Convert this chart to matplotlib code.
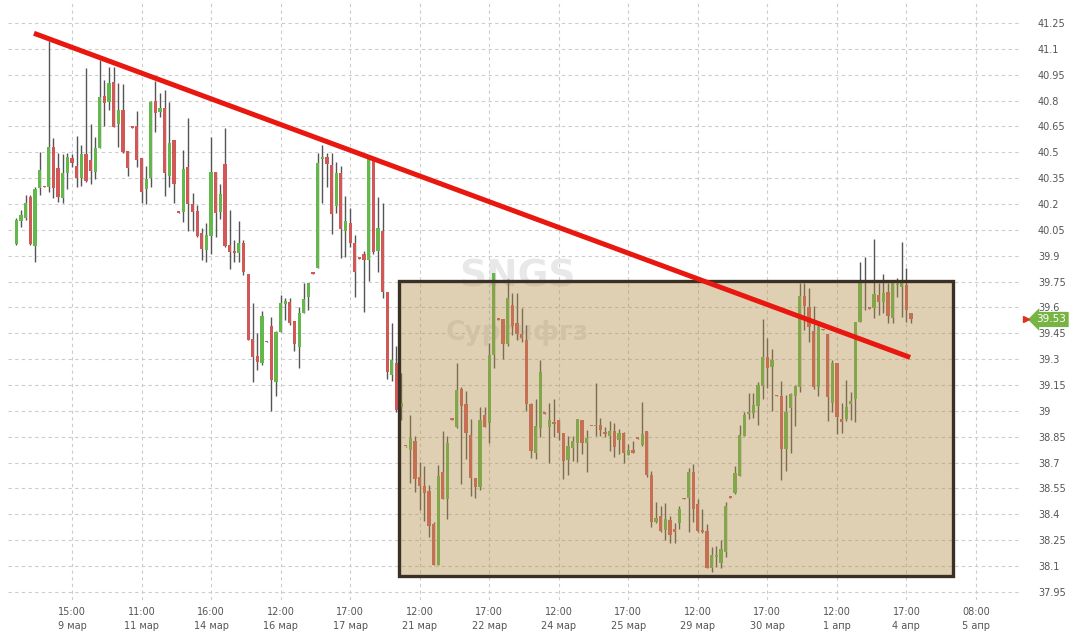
import numpy as np
import matplotlib.pyplot as plt
import matplotlib.transforms as mtransforms
from matplotlib.patches import Rectangle

# hourly candles SNGS
opens = [39.966, 40.103, 40.117, 40.239, 39.958, 40.295, 40.302, 40.297, 40.529, 40.407,
         40.233, 40.378, 40.469, 40.420, 40.349, 40.490, 40.455, 40.388, 40.523, 40.827,
         40.794, 40.906, 40.662, 40.745, 40.507, 40.647, 40.653, 40.465, 40.285, 40.349,
         40.798, 40.736, 40.755, 40.363, 40.571, 40.154, 40.156, 40.417, 40.200, 40.160,
         40.034, 39.933, 40.014, 40.384, 40.156, 40.430, 39.962, 39.922, 39.918, 39.976,
         39.794, 39.415, 39.318, 39.276, 39.404, 39.494, 39.170, 39.460, 39.618, 39.630,
         39.521, 39.373, 39.570, 39.663, 39.800, 39.827, 40.459, 40.471, 40.426, 40.191,
         40.378, 40.045, 40.092, 39.972, 39.887, 39.908, 39.875, 40.450, 39.929, 40.044,
         39.688, 39.208, 39.280, 39.025, 38.798, 38.773, 38.825, 38.619, 38.564, 38.535,
         38.344, 38.106, 38.646, 38.487, 38.953, 38.909, 39.127, 39.038, 38.860, 38.609,
         38.561, 38.976, 38.928, 39.324, 39.533, 39.531, 39.388, 39.614, 39.508, 39.446,
         39.411, 39.040, 38.754, 38.899, 38.988, 38.909, 38.934, 38.947, 38.874, 38.715,
         38.783, 38.812, 38.947, 38.812, 38.914, 38.910, 38.918, 38.872, 38.856, 38.885,
         38.831, 38.870, 38.744, 38.773, 38.843, 38.802, 38.885, 38.628, 38.357, 38.390,
         38.309, 38.367, 38.313, 38.348, 38.491, 38.493, 38.644, 38.458, 38.309, 38.303,
         38.087, 38.151, 38.120, 38.180, 38.501, 38.522, 38.624, 38.856, 38.984, 38.986,
         39.030, 39.144, 39.311, 39.253, 39.090, 39.088, 38.777, 39.015, 39.088, 39.141,
         39.666, 39.601, 39.465, 39.137, 39.471, 39.446, 39.044, 39.276, 38.951, 38.951,
         39.038, 39.067, 39.518, 39.740, 39.597, 39.595, 39.672, 39.634, 39.692, 39.537,
         39.730, 39.717, 39.730, 39.570]
highs = [40.117, 40.165, 40.252, 40.252, 40.301, 40.504, 40.302, 41.146, 40.581, 40.494,
         40.490, 40.494, 40.490, 40.595, 40.542, 40.987, 40.664, 40.587, 41.035, 40.919,
         40.993, 40.993, 40.900, 40.896, 40.507, 40.650, 40.741, 40.465, 40.420, 40.798,
         40.913, 40.842, 40.861, 40.794, 40.571, 40.156, 40.513, 40.697, 40.262, 40.194,
         40.059, 40.088, 40.587, 40.384, 40.314, 40.639, 40.165, 39.991, 40.102, 39.991,
         39.794, 39.624, 39.454, 39.581, 39.405, 39.547, 39.465, 39.672, 39.653, 39.653,
         39.521, 39.605, 39.740, 39.744, 39.800, 40.494, 40.542, 40.494, 40.494, 40.442,
         40.422, 40.247, 40.179, 40.020, 39.888, 39.928, 40.465, 40.450, 40.243, 40.208,
         39.688, 39.512, 39.377, 39.218, 38.799, 38.976, 38.854, 38.706, 38.680, 38.570,
         38.358, 38.686, 38.883, 38.856, 38.954, 39.276, 39.141, 39.115, 38.951, 38.609,
         39.025, 39.025, 39.396, 39.798, 39.534, 39.531, 39.765, 39.682, 39.682, 39.595,
         39.498, 39.048, 39.067, 39.295, 38.989, 39.048, 39.067, 38.947, 38.874, 38.854,
         38.854, 38.951, 38.947, 38.889, 38.915, 39.164, 38.957, 38.908, 38.943, 38.928,
         38.893, 38.880, 38.806, 38.827, 38.844, 39.054, 38.885, 38.653, 38.473, 38.448,
         38.468, 38.390, 38.348, 38.448, 38.492, 38.667, 38.690, 38.487, 38.429, 38.344,
         38.212, 38.216, 38.250, 38.470, 38.502, 38.680, 38.918, 38.996, 39.102, 39.102,
         39.170, 39.531, 39.421, 39.357, 39.091, 39.175, 39.092, 39.102, 39.150, 39.740,
         39.740, 39.711, 39.608, 39.498, 39.472, 39.446, 39.295, 39.276, 39.048, 39.179,
         39.112, 39.518, 39.866, 39.895, 39.598, 39.995, 39.740, 39.794, 39.740, 39.744,
         39.769, 39.982, 39.827, 39.570]
lows = [39.962, 40.069, 40.107, 39.962, 39.862, 40.252, 40.298, 40.268, 40.237, 40.214,
        40.204, 40.285, 40.417, 40.301, 40.304, 40.330, 40.316, 40.343, 40.523, 40.653,
        40.745, 40.645, 40.529, 40.498, 40.364, 40.640, 40.413, 40.204, 40.200, 40.301,
        40.620, 40.703, 40.247, 40.301, 40.208, 40.148, 40.094, 40.045, 40.045, 40.011,
        39.875, 39.862, 39.910, 40.007, 40.111, 39.953, 39.821, 39.862, 39.862, 39.788,
        39.411, 39.170, 39.237, 39.266, 39.399, 39.001, 39.086, 39.460, 39.527, 39.498,
        39.348, 39.251, 39.566, 39.585, 39.795, 39.827, 40.204, 40.301, 40.026, 40.146,
        39.885, 39.895, 39.953, 39.659, 39.882, 39.576, 39.756, 39.910, 39.808, 39.653,
        39.183, 39.175, 38.996, 38.947, 38.793, 38.580, 38.532, 38.425, 38.363, 38.271,
        38.106, 38.106, 38.487, 38.371, 38.948, 38.899, 38.574, 38.719, 38.506, 38.493,
        38.541, 38.909, 38.816, 39.247, 39.528, 39.299, 39.378, 39.440, 39.411, 39.402,
        39.001, 38.729, 38.719, 38.851, 38.984, 38.700, 38.851, 38.831, 38.605, 38.628,
        38.711, 38.706, 38.750, 38.644, 38.910, 38.856, 38.856, 38.847, 38.769, 38.735,
        38.750, 38.700, 38.744, 38.758, 38.839, 38.796, 38.615, 38.328, 38.352, 38.299,
        38.251, 38.232, 38.236, 38.313, 38.487, 38.299, 38.357, 38.299, 38.290, 38.087,
        38.067, 38.096, 38.090, 38.150, 38.497, 38.516, 38.624, 38.856, 38.951, 38.957,
        38.918, 39.067, 39.131, 38.999, 39.086, 38.599, 38.651, 38.754, 38.914, 39.112,
        39.469, 39.402, 39.125, 39.088, 39.467, 38.943, 38.996, 38.864, 38.870, 38.943,
        38.947, 38.938, 39.518, 39.585, 39.593, 39.537, 39.556, 39.566, 39.508, 39.508,
        39.663, 39.547, 39.518, 39.512]
closes = [40.107, 40.136, 40.204, 39.966, 40.289, 40.397, 40.298, 40.529, 40.291, 40.243,
          40.378, 40.475, 40.436, 40.353, 40.490, 40.335, 40.393, 40.523, 40.819, 40.788,
          40.900, 40.649, 40.745, 40.504, 40.407, 40.643, 40.455, 40.272, 40.343, 40.794,
          40.726, 40.755, 40.378, 40.552, 40.314, 40.150, 40.401, 40.200, 40.156, 40.014,
          39.937, 40.020, 40.384, 40.150, 40.256, 39.956, 39.920, 39.918, 39.972, 39.804,
          39.411, 39.315, 39.286, 39.552, 39.400, 39.179, 39.460, 39.624, 39.639, 39.508,
          39.388, 39.570, 39.649, 39.744, 39.796, 40.440, 40.471, 40.432, 40.140, 40.378,
          40.055, 40.103, 39.972, 39.804, 39.883, 39.875, 40.459, 39.920, 40.059, 39.688,
          39.228, 39.295, 39.005, 39.048, 38.794, 38.841, 38.603, 38.564, 38.522, 38.332,
          38.106, 38.622, 38.487, 38.816, 38.949, 39.121, 39.030, 38.870, 38.609, 38.557,
          38.947, 38.909, 39.324, 39.798, 39.529, 39.388, 39.653, 39.492, 39.446, 39.425,
          39.040, 38.769, 38.912, 39.228, 38.984, 38.947, 38.922, 38.874, 38.711, 38.796,
          38.825, 38.951, 38.812, 38.841, 38.910, 38.918, 38.889, 38.868, 38.885, 38.792,
          38.870, 38.754, 38.773, 38.758, 38.839, 38.866, 38.628, 38.357, 38.377, 38.305,
          38.371, 38.280, 38.299, 38.431, 38.487, 38.644, 38.429, 38.305, 38.299, 38.087,
          38.164, 38.164, 38.200, 38.450, 38.497, 38.642, 38.860, 38.976, 38.996, 39.034,
          39.150, 39.311, 39.247, 39.295, 39.086, 38.777, 38.996, 39.096, 39.144, 39.666,
          39.608, 39.489, 39.137, 39.489, 39.467, 39.083, 39.276, 38.967, 38.938, 39.021,
          39.059, 39.518, 39.740, 39.750, 39.593, 39.678, 39.634, 39.682, 39.550, 39.740,
          39.735, 39.740, 39.585, 39.530]

# x axis: one tick every 15 candles
tick_pos = list(range(12, 208, 15))
tick_labels = ["15:00\n9 мар", "11:00\n11 мар", "16:00\n14 мар", "12:00\n16 мар",
               "17:00\n17 мар", "12:00\n21 мар", "17:00\n22 мар", "12:00\n24 мар",
               "17:00\n25 мар", "12:00\n29 мар", "17:00\n30 мар", "12:00\n1 апр",
               "17:00\n4 апр", "08:00\n5 апр"]
y_ticks = [41.25, 41.1, 40.95, 40.8, 40.65, 40.5, 40.35, 40.2, 40.05, 39.9, 39.75, 39.6,
           39.45, 39.3, 39.15, 39.0, 38.85, 38.7, 38.55, 38.4, 38.25, 38.1, 37.95]

# drawings on the chart
trend_x = [3.8, 192.8]
trend_y = [41.19, 39.31]
box_x = [82.5, 202.0]
box_y = [38.04, 39.755]
last_price = 39.53

green = "#62b84a"
red = "#d25858"

fig = plt.figure(figsize=(10.78, 6.39), dpi=100)
ax = fig.add_axes([8 / 1078, 39 / 639, 1012 / 1078, 600 / 639])

x = np.arange(len(opens))
o = np.array(opens)
h = np.array(highs)
l = np.array(lows)
c = np.array(closes)
up = c >= o
colors = np.where(up, green, red)

ax.text(108, 39.777, "SNGS", ha="center", va="center", fontsize=27,
        fontweight="bold", color="#e8e8e8", zorder=1)
ax.text(108, 39.452, "Сургнфгз", ha="center", va="center", fontsize=19,
        fontweight="bold", color="#e8e8e8", zorder=1)

ax.vlines(x, l, h, color="#555555", lw=1.0, zorder=2)
body_h = np.maximum(np.abs(c - o), 0.008)
ax.bar(x, body_h, bottom=np.minimum(o, c), width=0.7, color=colors,
       linewidth=0, zorder=3)

ax.add_patch(Rectangle((box_x[0], box_y[0]), box_x[1] - box_x[0], box_y[1] - box_y[0],
                       facecolor=(0.70, 0.56, 0.30, 0.42), edgecolor="#3a3026",
                       lw=2.4, zorder=4))
ax.plot(trend_x, trend_y, color="#e8170f", lw=3.6, solid_capstyle="butt", zorder=5)

ax.set_xlim(-1.8, 216.5)
ax.set_ylim(37.903, 41.383)
ax.set_xticks(tick_pos)
ax.set_xticklabels(tick_labels, fontsize=7, color="#555555", linespacing=1.5)
ax.yaxis.tick_right()
ax.set_yticks(y_ticks)
ax.set_yticklabels([f"{v:g}" for v in y_ticks], fontsize=7, color="#555555")
ax.tick_params(length=0)
ax.tick_params(axis="x", pad=5)
ax.tick_params(axis="y", pad=13)
ax.grid(True, color="#cccccc", ls=(0, (3, 3)), lw=0.8)
ax.set_axisbelow(True)
for s in ax.spines.values():
    s.set_visible(False)

# last price tag on the right
tr = mtransforms.blended_transform_factory(ax.transAxes, ax.transData)
ax.plot([1.006], [last_price], marker=">", color="#e03020", ms=4, transform=tr,
        clip_on=False, zorder=6)
ax.text(1.016, last_price, f"{last_price:.2f}", transform=tr, ha="left", va="center",
        fontsize=7.5, color="white",
        bbox=dict(boxstyle="larrow,pad=0.25", fc="#78b444", ec="none"))

fig.savefig("out.png", dpi=100)
